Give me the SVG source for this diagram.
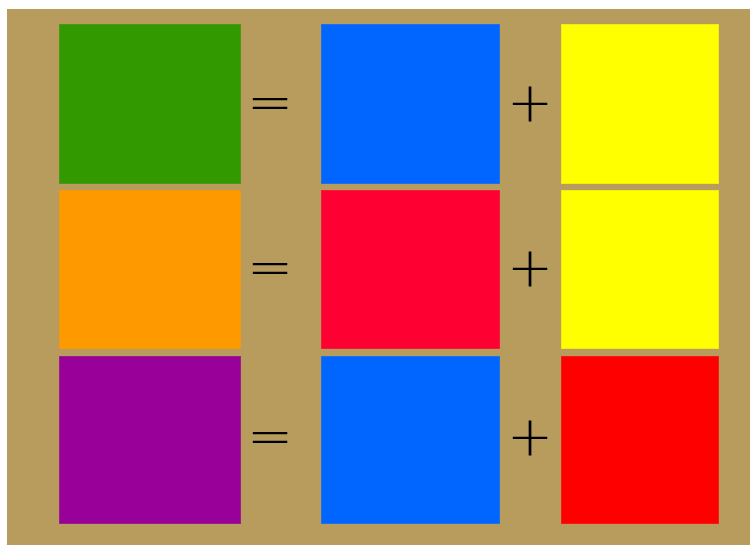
<svg xmlns="http://www.w3.org/2000/svg" width="750" height="545" viewBox="0 0 750 545">
<style>
.cell{stroke-width:1;stroke-opacity:0.35;stroke:#b89c5e}
.op{font-family:"DejaVu Sans",sans-serif;font-weight:200;font-size:55px;fill:#000;text-anchor:middle}
</style>
<rect x="0" y="0" width="750" height="545" fill="#fff"/>
<rect x="7" y="9" width="743" height="536" fill="#b89c5e"/>
<g id="row1">
<g id="green"><rect class="cell" x="59" y="24" width="182" height="160" fill="#339900"/></g>
<g id="eq1"><text class="op" x="270" y="121">=</text></g>
<g id="blue1"><rect class="cell" x="321" y="24" width="179" height="160" fill="#0066ff"/></g>
<g id="plus1"><text class="op" x="530" y="121">+</text></g>
<g id="yellow1"><rect class="cell" x="561" y="24" width="158" height="160" fill="#ffff00"/></g>
</g>
<g id="row2">
<g id="orange"><rect class="cell" x="59" y="190" width="182" height="159" fill="#ff9900"/></g>
<g id="eq2"><text class="op" x="270" y="286">=</text></g>
<g id="crimson"><rect class="cell" x="321" y="190" width="179" height="159" fill="#ff0033"/></g>
<g id="plus2"><text class="op" x="530" y="286">+</text></g>
<g id="yellow2"><rect class="cell" x="561" y="190" width="158" height="159" fill="#ffff00"/></g>
</g>
<g id="row3">
<g id="purple"><rect class="cell" x="59" y="356" width="182" height="168" fill="#990099"/></g>
<g id="eq3"><text class="op" x="270" y="455">=</text></g>
<g id="blue2"><rect class="cell" x="321" y="356" width="179" height="168" fill="#0066ff"/></g>
<g id="plus3"><text class="op" x="530" y="455">+</text></g>
<g id="red"><rect class="cell" x="561" y="356" width="158" height="168" fill="#ff0000"/></g>
</g>
<g id="connectors"/>
</svg>
